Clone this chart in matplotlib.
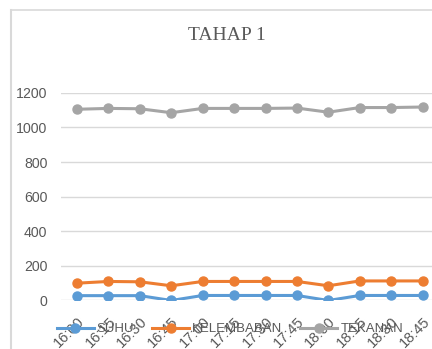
import matplotlib
matplotlib.use("Agg")
import matplotlib.pyplot as plt
from matplotlib.lines import Line2D

# Data
times = ["16:00", "16:15", "16:30", "16:45", "17:00", "17:15",
         "17:30", "17:45", "18:00", "18:15", "18:30", "18:45"]
suhu = [28, 28, 28, 0, 29, 29, 29, 29, 0, 29, 29, 29]
kelembaban = [100, 110, 108, 85, 110, 110, 110, 110, 85, 113, 113, 113]
tekanan = [1105, 1110, 1108, 1085, 1110, 1110, 1110, 1112, 1088, 1115, 1115, 1118]

TXT = "#595959"


def main():
    fig = plt.figure(figsize=(4.32, 3.49), dpi=100)
    ax = fig.add_axes([61.3 / 432, 0.139, 377 / 432, 0.595])

    x = list(range(len(times)))
    ax.plot(x, suhu, color="#5B9BD5", lw=2.2, marker="o", ms=6.5, label="SUHU")
    ax.plot(x, kelembaban, color="#ED7D31", lw=2.2, marker="o", ms=6.5, label="KELEMBABAN")
    ax.plot(x, tekanan, color="#A5A5A5", lw=2.2, marker="o", ms=6.5, label="TEKANAN")

    ax.set_xlim(-0.5, 11.5)
    ax.set_ylim(0, 1200)
    ax.set_yticks([0, 200, 400, 600, 800, 1000, 1200])
    ax.grid(axis="y", color="#D9D9D9", lw=1)
    ax.set_axisbelow(True)
    for s in ax.spines.values():
        s.set_visible(False)

    ax.set_xticks(x)
    ax.set_xticklabels(times)
    ax.tick_params(length=0, labelsize=10.5, labelcolor=TXT)
    ax.tick_params(axis="y", pad=10)
    ax.tick_params(axis="x", pad=10)
    plt.setp(ax.get_xticklabels(), rotation=45, ha="right", va="top",
             rotation_mode="anchor", family="Liberation Sans")
    plt.setp(ax.get_yticklabels(), family="Liberation Sans", fontsize=10.2)

    fig.text(227 / 432, 1 - 35 / 349, "TAHAP 1", ha="center", va="center",
             fontsize=14, color=TXT, family="Liberation Serif")

    leg = fig.legend(loc="center", bbox_to_anchor=(230 / 432, 0.057), ncol=3,
                     frameon=False, handlelength=2.8, handletextpad=0.25,
                     columnspacing=1.35, borderpad=0.2,
                     prop={"family": "Liberation Sans", "size": 9.5})
    for t in leg.get_texts():
        t.set_color(TXT)

    # chart area border
    fig.add_artist(Line2D([11 / 432, 11 / 432], [0, 1 - 10 / 349], color="#D9D9D9", lw=1.5))
    fig.add_artist(Line2D([11 / 432, 1], [1 - 10 / 349, 1 - 10 / 349], color="#D9D9D9", lw=1.2))

    fig.savefig("out.png", dpi=100)


main()
